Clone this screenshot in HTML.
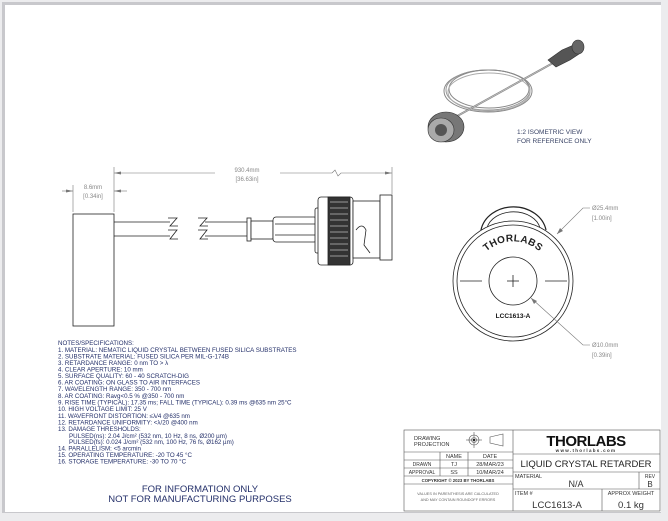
<!DOCTYPE html>
<html><head><meta charset="utf-8"><style>
html,body{margin:0;padding:0;background:#eeeeef;}
body{width:668px;height:521px;position:relative;overflow:hidden;font-family:"Liberation Sans",sans-serif;}
</style></head><body>
<svg width="668" height="521" viewBox="0 0 668 521" xmlns="http://www.w3.org/2000/svg" style="position:absolute;left:0;top:0">
<rect x="0" y="0" width="668" height="521" fill="#ececee"/>
<rect x="2" y="2" width="659" height="511" fill="#c8c8cc"/>
<rect x="5" y="5" width="656" height="507" fill="#fff"/>
<g font-family="Liberation Sans, sans-serif">
<!-- isometric -->
<g fill="none">
<ellipse cx="488" cy="91" rx="44" ry="21" stroke-width="1" stroke="#888"/>
<ellipse cx="488" cy="90" rx="42" ry="20" stroke-width="1" stroke="#999"/>
<ellipse cx="489" cy="89" rx="40" ry="19" stroke-width="1" stroke="#888"/>
<ellipse cx="489" cy="92" rx="41" ry="19" stroke-width="1" stroke="#aaa"/>
<line x1="450" y1="120" x2="553" y2="63" stroke-width="2" stroke="#888"/>
<line x1="450" y1="120" x2="553" y2="63" stroke-width="0.6" stroke="#ccc"/>
<polygon points="548,60 562,50 576,44 582,52 570,60 556,67" fill="#555" stroke="#333" stroke-width="0.6"/>
<ellipse cx="578" cy="47" rx="6" ry="7" fill="#666" stroke="#333" stroke-width="0.6"/>
<ellipse cx="446" cy="127" rx="18" ry="15" fill="#777" stroke="#333" stroke-width="0.6"/>
<ellipse cx="441" cy="130" rx="13" ry="12" fill="#aaa" stroke="#333" stroke-width="0.6"/>
<ellipse cx="441" cy="130" rx="6" ry="6" fill="#555"/>
</g>
<text x="517" y="134" font-size="6.5" fill="#3a4466">1:2 ISOMETRIC VIEW</text>
<text x="517" y="143" font-size="6.5" fill="#3a4466">FOR REFERENCE ONLY</text>
<!-- dimensions -->
<g stroke="#777" stroke-width="0.6" fill="none">
<line x1="114" y1="167" x2="114" y2="212"/>
<line x1="392" y1="167" x2="392" y2="194"/>
<line x1="73" y1="185" x2="73" y2="212"/>
<line x1="114" y1="173" x2="215" y2="173"/>
<line x1="280" y1="173" x2="332" y2="173"/>
<polyline points="332,173 335,170 338,176 341,173 392,173"/>
<line x1="62" y1="191" x2="73" y2="191"/>
<line x1="114" y1="191" x2="127" y2="191"/>
</g>
<g fill="#777"><polygon points="114,173 121,171.5 121,174.5"/><polygon points="392,173 385,171.5 385,174.5"/>
<polygon points="73,191 66,189.5 66,192.5"/><polygon points="114,191 121,189.5 121,192.5"/></g>
<text x="247" y="172" font-size="6" fill="#888" text-anchor="middle">930.4mm</text>
<text x="247" y="181" font-size="6" fill="#888" text-anchor="middle">[36.63in]</text>
<text x="93" y="189" font-size="6" fill="#888" text-anchor="middle">8.6mm</text>
<text x="93" y="198" font-size="6" fill="#888" text-anchor="middle">[0.34in]</text>
<!-- side view -->
<g stroke="#222" stroke-width="0.8" fill="#fff">
<rect x="73" y="214" width="41" height="112"/>
<line x1="114" y1="222" x2="170" y2="222"/><line x1="114" y1="236" x2="170" y2="236"/>
<line x1="205" y1="222" x2="247" y2="222"/><line x1="205" y1="236" x2="247" y2="236"/>
<polyline points="168,218 177,218 170,226 178,226" fill="none"/><polyline points="168,230 177,230 170,239 178,239" fill="none"/>
<polyline points="198,218 207,218 200,226 208,226" fill="none"/><polyline points="198,230 207,230 200,239 208,239" fill="none"/>
<rect x="247" y="218" width="4" height="23"/>
<rect x="251" y="221" width="22" height="18"/>
<rect x="273" y="217" width="44" height="25" rx="3"/>
<line x1="275" y1="224" x2="317" y2="224"/><line x1="275" y1="235" x2="317" y2="235"/>
<rect x="315" y="208" width="8" height="45" rx="2"/>
<rect x="318" y="197" width="35" height="68" rx="3"/>
<rect x="328" y="197" width="22" height="68" fill="#333"/>
<rect x="353" y="201" width="27" height="57"/>
<path d="M356 230 q6 -8 10 0 l-2 15 l6 8" fill="none"/>
<rect x="380" y="195" width="12" height="65"/>
</g>
<g stroke="#fff" stroke-width="0.6">
<line x1="330" y1="202" x2="348" y2="202"/><line x1="330" y1="208" x2="348" y2="208"/><line x1="330" y1="214" x2="348" y2="214"/><line x1="330" y1="220" x2="348" y2="220"/><line x1="330" y1="226" x2="348" y2="226"/><line x1="330" y1="232" x2="348" y2="232"/><line x1="330" y1="238" x2="348" y2="238"/><line x1="330" y1="244" x2="348" y2="244"/><line x1="330" y1="250" x2="348" y2="250"/><line x1="330" y1="256" x2="348" y2="256"/>
</g>
<!-- front view -->
<g stroke="#222" stroke-width="0.8" fill="#fff">
<path d="M481 230 A33 28 0 0 1 546 230" stroke-width="1.2"/>
<path d="M487 228 A27 20 0 0 1 540 228"/>
<circle cx="513" cy="281" r="60"/>
<circle cx="513" cy="281" r="56"/>
<circle cx="513" cy="281" r="24"/>
<line x1="460" y1="281" x2="482" y2="281"/><line x1="545" y1="281" x2="567" y2="281"/>
<line x1="507" y1="281" x2="519" y2="281"/><line x1="513" y1="275" x2="513" y2="287"/>
</g>
<path id="arc" d="M478 262 A40 40 0 0 1 548 262" fill="none"/>
<text font-size="10" font-weight="bold" fill="#222" letter-spacing="0.3"><textPath href="#arc" startOffset="50%" text-anchor="middle">THORLABS</textPath></text>
<text x="513" y="318" font-size="6.5" font-weight="bold" fill="#111" text-anchor="middle">LCC1613-A</text>
<g stroke="#777" stroke-width="0.6" fill="none"><polyline points="557,234 583,208 590,208"/><polyline points="531,298 583,345 590,345"/></g>
<polygon points="557,234 560,228 563,231" fill="#777"/><polygon points="531,298 534,304 537,301" fill="#777"/>
<g font-size="6" fill="#888"><text x="592" y="210">Ø25.4mm</text><text x="592" y="220">[1.00in]</text><text x="592" y="347">Ø10.0mm</text><text x="592" y="357">[0.39in]</text></g>
<!-- notes -->
<g font-size="6.2" fill="#24306a">
<text x="58" y="345">NOTES/SPECIFICATIONS:</text>
<text x="58" y="352">1. MATERIAL: NEMATIC LIQUID CRYSTAL BETWEEN FUSED SILICA SUBSTRATES</text>
<text x="58" y="358.5">2. SUBSTRATE MATERIAL: FUSED SILICA PER MIL-G-174B</text>
<text x="58" y="365">3. RETARDANCE RANGE: 0 nm TO &gt; λ</text>
<text x="58" y="371.5">4. CLEAR APERTURE: 10 mm</text>
<text x="58" y="378">5. SURFACE QUALITY: 60 - 40 SCRATCH-DIG</text>
<text x="58" y="384.5">6. AR COATING: ON GLASS TO AIR INTERFACES</text>
<text x="58" y="391">7. WAVELENGTH RANGE: 350 - 700 nm</text>
<text x="58" y="398">8. AR COATING: Ravg&lt;0.5 % @350 - 700 nm</text>
<text x="58" y="404.5">9. RISE TIME (TYPICAL): 17.35 ms; FALL TIME (TYPICAL): 0.39 ms @635 nm 25°C</text>
<text x="58" y="411">10. HIGH VOLTAGE LIMIT: 25 V</text>
<text x="58" y="418">11. WAVEFRONT DISTORTION: ≤λ/4 @635 nm</text>
<text x="58" y="424.5">12. RETARDANCE UNIFORMITY: &lt;λ/20 @400 nm</text>
<text x="58" y="431">13. DAMAGE THRESHOLDS:</text>
<text x="69" y="438">PULSED(ns): 2.04 J/cm² (532 nm, 10 Hz, 8 ns, Ø200 µm)</text>
<text x="69" y="444">PULSED(fs): 0.024 J/cm² (532 nm, 100 Hz, 76 fs, Ø162 µm)</text>
<text x="58" y="450.5">14. PARALLELISM: &lt;5 arcmin</text>
<text x="58" y="457">15. OPERATING TEMPERATURE: -20 TO 45 °C</text>
<text x="58" y="463.5">16. STORAGE TEMPERATURE: -30 TO 70 °C</text>
</g>
<g font-size="9.5" fill="#24306a" text-anchor="middle">
<text x="200" y="492">FOR INFORMATION ONLY</text>
<text x="200" y="502">NOT FOR MANUFACTURING PURPOSES</text>
</g>
<!-- title block -->
<g stroke="#555" stroke-width="0.6" fill="none">
<rect x="404" y="430" width="256" height="81"/>
<line x1="513" y1="430" x2="513" y2="511"/>
<line x1="404" y1="452" x2="513" y2="452"/>
<line x1="404" y1="460" x2="513" y2="460"/>
<line x1="404" y1="468" x2="513" y2="468"/>
<line x1="404" y1="476" x2="513" y2="476"/>
<line x1="404" y1="484" x2="513" y2="484"/>
<line x1="440" y1="452" x2="440" y2="476"/>
<line x1="468" y1="452" x2="468" y2="476"/>
<line x1="513" y1="454" x2="660" y2="454"/>
<line x1="513" y1="472" x2="660" y2="472"/>
<line x1="513" y1="489" x2="660" y2="489"/>
<line x1="639" y1="472" x2="639" y2="489"/>
<line x1="602" y1="489" x2="602" y2="511"/>
<circle cx="474" cy="440" r="5"/><circle cx="474" cy="440" r="2.5"/>
<line x1="466" y1="440" x2="482" y2="440"/><line x1="474" y1="432" x2="474" y2="448"/>
<polygon points="490,437 503,434 503,446 490,443"/>
</g>
<circle cx="474" cy="440" r="1.2" fill="#222"/>
<g fill="#333">
<text x="414" y="440" font-size="5.5">DRAWING</text>
<text x="414" y="446" font-size="5.5">PROJECTION</text>
<text x="454" y="458" font-size="5.5" text-anchor="middle">NAME</text>
<text x="490" y="458" font-size="5.5" text-anchor="middle">DATE</text>
<text x="422" y="466" font-size="5" text-anchor="middle">DRAWN</text>
<text x="454" y="466" font-size="5.5" text-anchor="middle">TJ</text>
<text x="490" y="466" font-size="5.5" text-anchor="middle">28/MAR/23</text>
<text x="422" y="474" font-size="5" text-anchor="middle">APPROVAL</text>
<text x="454" y="474" font-size="5.5" text-anchor="middle">SS</text>
<text x="490" y="474" font-size="5.5" text-anchor="middle">10/MAR/24</text>
<text x="458" y="482" font-size="4.3" font-weight="bold" text-anchor="middle">COPYRIGHT © 2023 BY THORLABS</text>
<text x="458" y="495" font-size="3.8" text-anchor="middle" fill="#666">VALUES IN PARENTHESIS ARE CALCULATED</text>
<text x="458" y="501" font-size="3.8" text-anchor="middle" fill="#666">AND MAY CONTAIN ROUNDOFF ERRORS</text>
<text x="586" y="446" font-size="15" font-weight="bold" text-anchor="middle" fill="#111" letter-spacing="-0.5">THORLABS</text>
<text x="586" y="452" font-size="4.5" font-weight="bold" text-anchor="middle" letter-spacing="1.3">www.thorlabs.com</text>
<text x="586" y="467" font-size="9.5" text-anchor="middle" fill="#222">LIQUID CRYSTAL RETARDER</text>
<text x="515" y="478" font-size="5.5">MATERIAL</text>
<text x="576" y="487" font-size="9" text-anchor="middle">N/A</text>
<text x="650" y="478" font-size="5" text-anchor="middle">REV</text>
<text x="650" y="487" font-size="8" text-anchor="middle">B</text>
<text x="515" y="495" font-size="5.5">ITEM #</text>
<text x="557" y="508" font-size="9.5" text-anchor="middle">LCC1613-A</text>
<text x="631" y="495" font-size="5.5" text-anchor="middle">APPROX WEIGHT</text>
<text x="631" y="508" font-size="9.5" text-anchor="middle">0.1 kg</text>
</g>
</g>
</svg>
</body></html>
